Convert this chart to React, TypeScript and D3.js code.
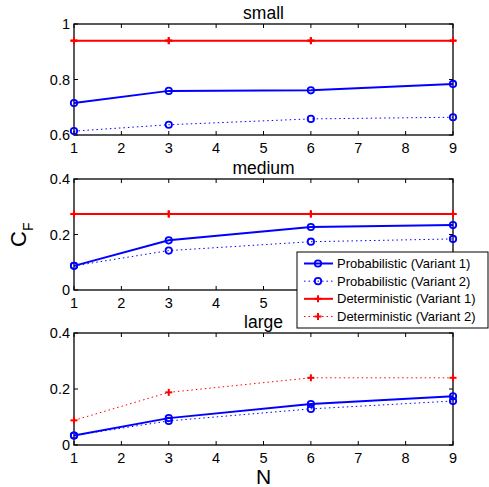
import * as d3 from 'd3';
import React from 'react';

// x values (N) and tick labels
const nValues = [1, 3, 6, 9];
const xTicks = [1, 2, 3, 4, 5, 6, 7, 8, 9];

// panel "small"
const probV1Small = [0.715, 0.759, 0.761, 0.784];
const probV2Small = [0.614, 0.637, 0.658, 0.664];
const detV1Small = [0.94, 0.94, 0.94, 0.94];
const detV2Small = [0.94, 0.94, 0.94, 0.94];

// panel "medium"
const probV1Medium = [0.087, 0.179, 0.227, 0.234];
const probV2Medium = [0.087, 0.142, 0.174, 0.184];
const detV1Medium = [0.274, 0.274, 0.274, 0.274];
const detV2Medium = [0.274, 0.274, 0.274, 0.274];

// panel "large" (deterministic variant 1 is off the axis range)
const probV1Large = [0.034, 0.096, 0.146, 0.174];
const probV2Large = [0.034, 0.086, 0.129, 0.157];
const detV2Large = [0.088, 0.188, 0.24, 0.24];

const yTicksSmall = [0.6, 0.8, 1];
const yTicksOther = [0, 0.2, 0.4];

const seriesNames = [
  'Probabilistic (Variant 1)',
  'Probabilistic (Variant 2)',
  'Deterministic (Variant 1)',
  'Deterministic (Variant 2)',
];

const BLUE = '#0000ff';
const RED = '#ff0000';
const FONT = 'Liberation Sans, Arial, Helvetica, sans-serif';

const styles = [
  { color: BLUE, width: 2, dash: null, marker: 'o' },
  { color: BLUE, width: 1, dash: '1.5,3', marker: 'o' },
  { color: RED, width: 2, dash: null, marker: '+' },
  { color: RED, width: 1, dash: '1.5,3', marker: '+' },
];

const panels = [
  { title: 'small', top: 24, bottom: 135, domain: [0.6, 1], ticks: yTicksSmall, series: [probV1Small, probV2Small, detV1Small, detV2Small] },
  { title: 'medium', top: 179, bottom: 290, domain: [0, 0.4], ticks: yTicksOther, series: [probV1Medium, probV2Medium, detV1Medium, detV2Medium] },
  { title: 'large', top: 333, bottom: 445, domain: [0, 0.4], ticks: yTicksOther, series: [probV1Large, probV2Large, null, detV2Large] },
];

const left = 74;
const right = 453;

function Marker({ type, x, y, color }) {
  if (type === 'o') {
    return <circle cx={x} cy={y} r={3.2} fill="none" stroke={color} strokeWidth={1.8} />;
  }
  return (
    <g stroke={color} strokeWidth={2}>
      <line x1={x - 3.5} x2={x + 3.5} y1={y} y2={y} />
      <line x1={x} x2={x} y1={y - 3.5} y2={y + 3.5} />
    </g>
  );
}

function Panel({ p }) {
  const x = d3.scaleLinear().domain([1, 9]).range([left, right]);
  const y = d3.scaleLinear().domain(p.domain).range([p.bottom, p.top]);
  const line = d3.line().x((d, i) => x(nValues[i])).y(d => y(d));
  const fmt = (v) => (v === 0 || v === 1 ? String(v) : d3.format('.1f')(v));

  return (
    <g>
      <rect x={left} y={p.top} width={right - left} height={p.bottom - p.top} fill="white" />
      {/* ticks inward, on all four sides */}
      {xTicks.map(t => (
        <g key={'x' + t} stroke="#000" strokeWidth={1}>
          <line x1={x(t)} x2={x(t)} y1={p.bottom} y2={p.bottom - 4} />
          <line x1={x(t)} x2={x(t)} y1={p.top} y2={p.top + 4} />
        </g>
      ))}
      {p.ticks.map(t => (
        <g key={'y' + t} stroke="#000" strokeWidth={1}>
          <line x1={left} x2={left + 4} y1={y(t)} y2={y(t)} />
          <line x1={right} x2={right - 4} y1={y(t)} y2={y(t)} />
        </g>
      ))}
      <rect x={left} y={p.top} width={right - left} height={p.bottom - p.top} fill="none" stroke="#000" strokeWidth={1.3} />
      {xTicks.map(t => (
        <text key={'xl' + t} x={x(t)} y={p.bottom + 18} textAnchor="middle" fontSize={14.5} fontFamily={FONT}>{t}</text>
      ))}
      {p.ticks.map(t => (
        <text key={'yl' + t} x={left - 4} y={y(t) + 5} textAnchor="end" fontSize={14.5} fontFamily={FONT}>{fmt(t)}</text>
      ))}
      <text x={(left + right) / 2} y={p.top - 5} textAnchor="middle" fontSize={17.5} fontFamily={FONT}>{p.title}</text>
      {p.series.map((vals, si) => vals && (
        <g key={'s' + si}>
          <path d={line(vals)} fill="none" stroke={styles[si].color} strokeWidth={styles[si].width}
            strokeDasharray={styles[si].dash || undefined} />
          {vals.map((v, i) => (
            <Marker key={i} type={styles[si].marker} x={x(nValues[i])} y={y(v)} color={styles[si].color} />
          ))}
        </g>
      ))}
    </g>
  );
}

function Legend() {
  const lx = 297, ly = 252, lw = 191, lh = 76;
  const rows = d3.scaleLinear().domain([0, 3]).range([ly + 11.5, ly + 64.5]);
  return (
    <g>
      <rect x={lx} y={ly} width={lw} height={lh} fill="white" stroke="#000" strokeWidth={1} />
      {seriesNames.map((name, i) => (
        <g key={name}>
          <line x1={lx + 7} x2={lx + 36} y1={rows(i)} y2={rows(i)} stroke={styles[i].color}
            strokeWidth={styles[i].width} strokeDasharray={styles[i].dash || undefined} />
          <Marker type={styles[i].marker} x={lx + 21} y={rows(i)} color={styles[i].color} />
          <text x={lx + 40} y={rows(i) + 4.5} fontSize={13} fontFamily={FONT}>{name}</text>
        </g>
      ))}
    </g>
  );
}

export default function App() {
  return (
    <svg width={489} height={487} style={{ position: 'absolute', left: 0, top: 0, background: 'white' }}>
      {panels.map(p => <Panel key={p.title} p={p} />)}
      <Legend />
      <text transform="translate(26,247) rotate(-90)" fontSize={22} fontFamily={FONT}>
        C<tspan fontSize={14} dy={7}>F</tspan>
      </text>
      <text x={(left + right) / 2} y={484} textAnchor="middle" fontSize={21} fontFamily={FONT}>N</text>
    </svg>
  );
}
